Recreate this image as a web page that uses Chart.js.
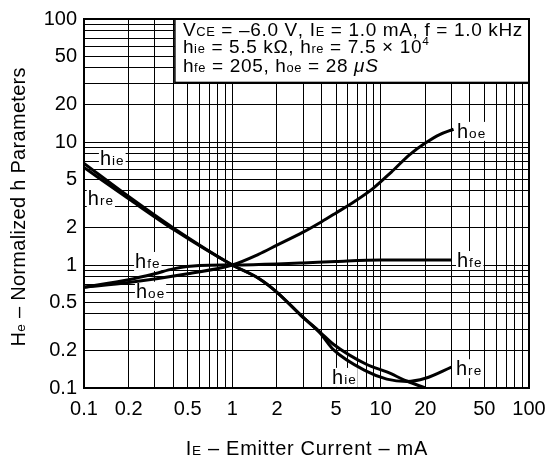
<!DOCTYPE html>
<html><head><meta charset="utf-8">
<script src="https://cdn.jsdelivr.net/npm/chart.js@4/dist/chart.umd.min.js"></script>
<style>html,body{margin:0;padding:0;background:#fff}</style>
</head><body>
<canvas id="c" width="560" height="461"></canvas>
<script>
// ---- data (IE in mA, normalized parameter) ----
const hieCurrent = [0.1, 0.2, 0.4, 1, 1.5, 2, 2.9, 3.9, 4.8, 8, 11, 15, 20];
const hieValue   = [6.7, 3.6, 2.0, 1.0, 0.78, 0.6, 0.39, 0.285, 0.227, 0.156, 0.135, 0.114, 0.1];
const hreCurrent = [0.1, 0.2, 0.4, 1, 1.5, 2, 2.9, 3.9, 4.8, 8, 11, 15, 20, 30];
const hreValue   = [6.2, 3.45, 1.95, 1.0, 0.78, 0.6, 0.39, 0.28, 0.205, 0.137, 0.118, 0.113, 0.12, 0.148];
const hfeCurrent = [0.1, 0.2, 0.3, 0.4, 0.6, 1, 2, 3, 5, 10, 30];
const hfeValue   = [0.66, 0.76, 0.85, 0.93, 0.99, 1.0, 1.02, 1.04, 1.07, 1.1, 1.1];
const hoeCurrent = [0.1, 0.2, 0.5, 1, 1.5, 2, 3, 4, 5, 6.7, 8.9, 11.8, 15.7, 20, 25, 31];
const hoeValue   = [0.66, 0.72, 0.85, 1.0, 1.22, 1.45, 1.85, 2.25, 2.65, 3.3, 4.2, 5.7, 7.9, 9.8, 11.5, 12.7];

const gridValues = [0.1,0.2,0.3,0.4,0.5,0.6,0.7,0.8,0.9,1,2,3,4,5,6,7,8,9,10,20,30,40,50,60,70,80,90,100];
const xTickValues = [0.1, 0.2, 0.5, 1, 2, 5, 10, 20, 50, 100];
const xTickLabels = ['0.1','0.2','0.5','1','2','5','10','20','50','100'];
const yTickValues = [0.1, 0.2, 0.5, 1, 2, 5, 10, 20, 50, 100];
const yTickLabels = ['0.1','0.2','0.5','1','2','5','10','20','50','100'];

const FONT = '"Liberation Sans", Arial, Helvetica, sans-serif';

function labelFrom(vals, labels) {
  return (v) => {
    for (let i = 0; i < vals.length; i++) if (Math.abs(vals[i] - v) < vals[i] * 1e-6) return labels[i];
    return '';
  };
}

function pts(xs, ys) { return xs.map((x, i) => ({x: x, y: ys[i]})); }
function ds(label, xs, ys) {
  return {label: label, data: pts(xs, ys), borderColor: '#000', borderWidth: 3,
          pointRadius: 0, fill: false, cubicInterpolationMode: 'monotone'};
}

// rich text: segments {t, k:'n'|'sub'|'sup', i:italic}
function segFont(s, base) {
  const size = s.k === 'sub' ? base * 0.68 : s.k === 'sup' ? base * 0.62 : base;
  return (s.i ? 'italic ' : '') + size.toFixed(1) + 'px ' + FONT;
}
function richWidth(ctx, segs, base, sp) {
  let w = 0;
  for (const s of segs) {
    ctx.font = segFont(s, base);
    for (const ch of s.t) w += ctx.measureText(ch).width + sp;
  }
  return w - sp;
}
function drawRich(ctx, x, y, segs, base, sp) {
  ctx.textBaseline = 'alphabetic'; ctx.textAlign = 'left';
  for (const s of segs) {
    ctx.font = segFont(s, base);
    const dy = s.k === 'sup' ? -base * 0.42 : 0;
    for (const ch of s.t) {
      ctx.fillText(ch, x, y + dy);
      x += ctx.measureText(ch).width + sp;
    }
  }
  return x;
}

const boxLines = [
  [{t:'V'},{t:'CE',k:'sub'},{t:' = \u20136.0 V, I'},{t:'E',k:'sub'},{t:' = 1.0 mA, f = 1.0 kHz'}],
  [{t:'h'},{t:'ie',k:'sub'},{t:' = 5.5 k\u03A9, h'},{t:'re',k:'sub'},{t:' = 7.5 \u00D7 10'},{t:'4',k:'sup'}],
  [{t:'h'},{t:'fe',k:'sub'},{t:' = 205, h'},{t:'oe',k:'sub'},{t:' = 28 '},{t:'\u03BCS',i:true}]
];
// curve name labels anchored in data coordinates (left / baseline)
const curveLabels = [
  {sub:'ie', x:0.128, y:6.5},
  {sub:'re', x:0.106, y:3.05},
  {sub:'fe', x:0.221, y:0.946},
  {sub:'oe', x:0.224, y:0.542},
  {sub:'oe', x:32.7, y:10.8},
  {sub:'fe', x:32.7, y:0.963},
  {sub:'re', x:32.2, y:0.127},
  {sub:'ie', x:4.7, y:0.108}
];
const boxCorner = [0.41, 30.5];

const annot = {
  id: 'annot',
  beforeDatasetsDraw(chart) {
    const ctx = chart.ctx, a = chart.chartArea, x = chart.scales.x, y = chart.scales.y;
    ctx.save();
    // curve labels with white backgrounds
    for (const L of curveLabels) {
      const segs = [{t:'h'},{t:L.sub,k:'sub'}];
      const px = x.getPixelForValue(L.x), py = y.getPixelForValue(L.y);
      const w = richWidth(ctx, segs, 20, 1);
      ctx.fillStyle = '#fff';
      ctx.fillRect(px - 1, py - 16, w + 3, 19);
      ctx.fillStyle = '#000';
      drawRich(ctx, px, py, segs, 20, 1);
    }
    // annotation box
    const bx = x.getPixelForValue(boxCorner[0]), by = y.getPixelForValue(boxCorner[1]);
    ctx.fillStyle = '#fff';
    ctx.fillRect(bx, a.top, a.right - bx, by - a.top);
    ctx.strokeStyle = '#000'; ctx.lineWidth = 1.5;
    ctx.strokeRect(bx, a.top, a.right - bx, by - a.top);
    ctx.lineWidth = 2;
    ctx.beginPath(); ctx.moveTo(a.left, a.top); ctx.lineTo(a.right, a.top); ctx.lineTo(a.right, a.bottom); ctx.stroke();
    ctx.fillStyle = '#000';
    const base = [16.5, 34, 53];
    boxLines.forEach((segs, i) => drawRich(ctx, bx + 8, a.top + base[i], segs, 19, 0.65));
    ctx.restore();
  },
  afterDraw(chart) {
    const ctx = chart.ctx, a = chart.chartArea;
    ctx.save();
    ctx.fillStyle = '#000';
    // x title
    const xs = [{t:'I'},{t:'E',k:'sub'},{t:' \u2013 Emitter Current \u2013 mA'}];
    const xw = richWidth(ctx, xs, 20, 0.7);
    drawRich(ctx, (a.left + a.right) / 2 - xw / 2, 455, xs, 20, 0.7);
    // y title
    const ys = [{t:'H'},{t:'e',k:'sub'},{t:' \u2013 Normalized h Parameters'}];
    const yw = richWidth(ctx, ys, 20, 0.3);
    ctx.translate(25, 207);
    ctx.rotate(-Math.PI / 2);
    drawRich(ctx, -yw / 2, 0, ys, 20, 0.3);
    ctx.restore();
  }
};

new Chart(document.getElementById('c'), {
  type: 'line',
  data: { datasets: [
    ds('hie', hieCurrent, hieValue),
    ds('hre', hreCurrent, hreValue),
    ds('hfe', hfeCurrent, hfeValue),
    ds('hoe', hoeCurrent, hoeValue)
  ]},
  options: {
    responsive: false, animation: false, devicePixelRatio: 1,
    layout: {padding: {left: 0, right: 31, top: 15, bottom: 0}},
    plugins: {legend: {display: false}, tooltip: {enabled: false}, title: {display: false}},
    scales: {
      x: {
        type: 'logarithmic', min: 0.1, max: 100,
        afterBuildTicks: s => { s.ticks = gridValues.map(v => ({value: v})); },
        afterFit: s => { s.height = 73; },
        grid: {color: '#000', lineWidth: 1, drawTicks: false},
        border: {color: '#000', width: 2},
        ticks: {autoSkip: false, maxRotation: 0, minRotation: 0, color: '#000',
                font: {family: FONT, size: 20}, padding: 9,
                callback: labelFrom(xTickValues, xTickLabels)}
      },
      y: {
        type: 'logarithmic', min: 0.1, max: 100,
        afterBuildTicks: s => { s.ticks = gridValues.map(v => ({value: v})); },
        afterFit: s => { s.width = 84; },
        grid: {color: '#000', lineWidth: 1, drawTicks: false},
        border: {color: '#000', width: 2},
        ticks: {autoSkip: false, color: '#000', font: {family: FONT, size: 20}, padding: 7,
                callback: labelFrom(yTickValues, yTickLabels)}
      }
    }
  },
  plugins: [annot]
});
</script>
</body></html>
